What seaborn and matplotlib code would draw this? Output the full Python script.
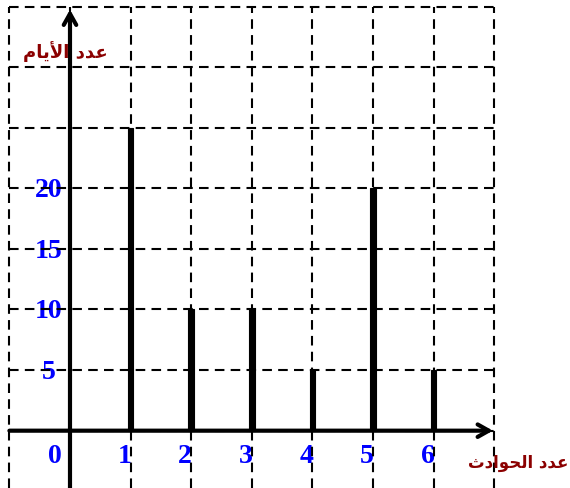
"""عدد الأيام حسب عدد الحوادث — مخطط بالأعمدة الرفيعة على شبكة متقطعة.

الإخراج: out.png (570x488)
"""
import matplotlib
matplotlib.use("Agg")
import matplotlib.pyplot as plt
import numpy as np
import pandas as pd
import seaborn as sns

# البيانات
accidents = [1, 2, 3, 4, 5, 6]
days = [25, 10, 10, 5, 20, 5]
x_ticks = [0, 1, 2, 3, 4, 5, 6]
y_ticks = [5, 10, 15, 20]

# النصوص (منطقي: "عدد الأيام" و "عدد الحوادث") — مكتوبة بأشكال العرض
# وبترتيب بصري لأن matplotlib لا يقوم بتشكيل الحروف العربية
Y_LABEL = "\uFEE1\uFE8E\uFEF3\uFEF7\uFE8D \uFEA9\uFEAA\uFECB"
X_LABEL = "\uFE99\uFEA9\uFE8D\uFEEE\uFEA4\uFEDF\uFE8D \uFEA9\uFEAA\uFECB"

BLUE = "#0000FF"
RED = "#8B0000"

sns.set_style("white")
plt.rcParams["font.family"] = ["DejaVu Sans"]

fig = plt.figure(figsize=(5.7, 4.88), dpi=100)
ax = fig.add_axes([0, 0, 1, 1])

df = pd.DataFrame({"accidents": accidents, "days": days})
sns.barplot(data=df, x="accidents", y="days", native_scale=True, width=0.095,
            color="black", saturation=1, errorbar=None, ax=ax, zorder=4,
            edgecolor="black", linewidth=0.8)

XMIN, XMAX = -1.155, 8.251
YMIN, YMAX = -4.73, 35.54
ax.set_xlim(XMIN, XMAX)
ax.set_ylim(YMIN, YMAX)
ax.set_axis_off()

# شبكة متقطعة
dash = dict(color="black", lw=1.5, ls=(0, (4.6, 3.0)), zorder=2)
ax.vlines(np.arange(-1, 8), YMIN, 35, **dash)
ax.hlines(np.arange(0, 40, 5), -1, 7, **dash)

# المحاور بأسهم
arrow = dict(arrowstyle="->,head_length=0.8,head_width=0.45",
             lw=3, color="black", shrinkA=0, shrinkB=0)
ax.annotate("", xy=(0, 34.75), xytext=(0, YMIN), arrowprops=arrow, zorder=5)
ax.annotate("", xy=(6.98, 0), xytext=(-1, 0), arrowprops=arrow, zorder=5)

# تسميات التدريج
serif = dict(family=["Liberation Serif", "DejaVu Serif"], weight="bold", color=BLUE, zorder=1)
for v in x_ticks:
    off = -0.25 if v == 0 else -0.1
    ax.text(v + off, -2.1, str(v), ha="center", va="center", fontsize=20, **serif)
for v in y_ticks:
    ax.text(-0.35, v - 0.2, str(v), ha="center", va="center", fontsize=20, **serif)

# عناوين المحاور
ax.text(-0.07, 31.3, Y_LABEL, ha="center", va="center", fontsize=13,
        color=RED, weight="bold", family=["DejaVu Sans"])
ax.text(8.22, -2.67, X_LABEL, ha="right", va="center", fontsize=12,
        color=RED, weight="bold", family=["DejaVu Sans"])

fig.savefig("out.png", dpi=100, facecolor="white")
